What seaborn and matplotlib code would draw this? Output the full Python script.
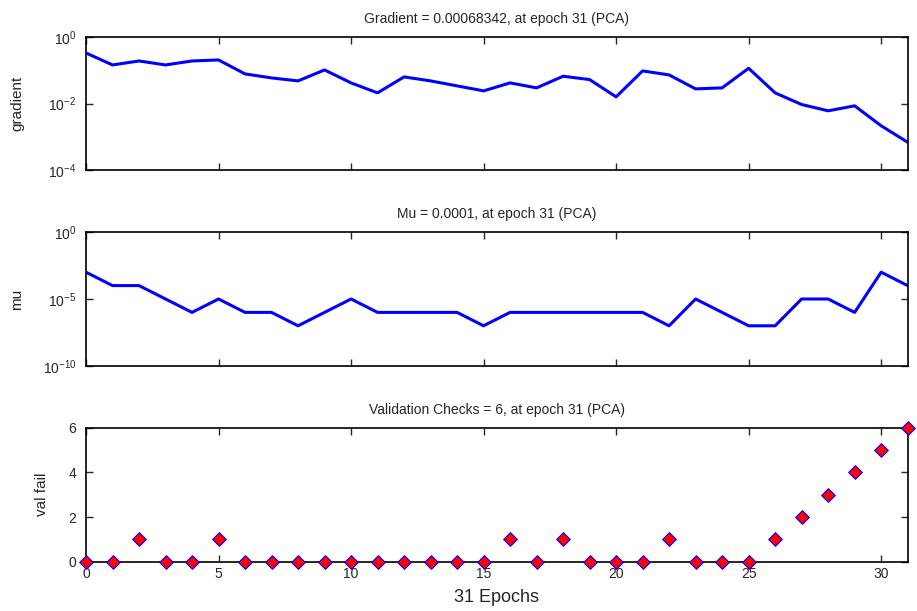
import numpy as np
import pandas as pd
import seaborn as sns
import matplotlib.pyplot as plt

# data
epochs = list(range(32))
gradient_log = [-0.48, -0.84, -0.72, -0.84, -0.72, -0.69, -1.11, -1.23, -1.32, -0.99,
                -1.38, -1.68, -1.20, -1.32, -1.47, -1.62, -1.38, -1.53, -1.18, -1.28,
                -1.80, -1.02, -1.14, -1.56, -1.53, -0.94, -1.68, -2.03, -2.22, -2.07,
                -2.67, -3.165]
mu_log = [-3, -4, -4, -5, -6, -5, -6, -6, -7, -6,
          -5, -6, -6, -6, -6, -7, -6, -6, -6, -6,
          -6, -6, -7, -5, -6, -7, -7, -5, -5, -6,
          -3, -4]
val_fail = [0, 0, 1, 0, 0, 1, 0, 0, 0, 0,
            0, 0, 0, 0, 0, 0, 1, 0, 1, 0,
            0, 0, 1, 0, 0, 0, 1, 2, 3, 4,
            5, 6]

df = pd.DataFrame({'epoch': epochs,
                   'gradient': [10.0 ** v for v in gradient_log],
                   'mu': [10.0 ** v for v in mu_log],
                   'val_fail': val_fail})

sns.set_style("ticks")
plt.rcParams['font.family'] = ['Liberation Sans', 'DejaVu Sans']
plt.rcParams['mathtext.fontset'] = 'custom'
plt.rcParams['mathtext.rm'] = 'Liberation Sans'

fig = plt.figure(figsize=(9.17, 6.11), dpi=100)
left, width = 0.0938, 0.896
ax1 = fig.add_axes([left, 0.7218, width, 0.2176])
ax2 = fig.add_axes([left, 0.4010, width, 0.2193])
ax3 = fig.add_axes([left, 0.0807, width, 0.2193])

# gradient
sns.lineplot(data=df, x='epoch', y='gradient', ax=ax1, color='#0000ff', linewidth=2.2)
ax1.set_yscale('log')
ax1.set_ylim(1e-4, 1)
ax1.set_yticks([1e-4, 1e-2, 1])
ax1.set_ylabel('gradient', fontsize=11)
ax1.set_title('Gradient = 0.00068342, at epoch 31 (PCA)', fontsize=10, pad=10)

# mu
sns.lineplot(data=df, x='epoch', y='mu', ax=ax2, color='#0000ff', linewidth=2.2)
ax2.set_yscale('log')
ax2.set_ylim(1e-10, 1)
ax2.set_yticks([1e-10, 1e-5, 1])
ax2.set_ylabel('mu', fontsize=11)
ax2.set_title('Mu = 0.0001, at epoch 31 (PCA)', fontsize=10, pad=10)

# validation checks
sns.scatterplot(data=df, x='epoch', y='val_fail', ax=ax3, marker='D', s=48,
                color='red', edgecolor='#0000ff', linewidth=0.8, zorder=5, clip_on=False)
ax3.set_ylim(0, 6)
ax3.set_yticks([0, 2, 4, 6])
ax3.set_ylabel('val fail', fontsize=11)
ax3.set_title('Validation Checks = 6, at epoch 31 (PCA)', fontsize=10, pad=10)
ax3.set_xlabel('31 Epochs', fontsize=13, labelpad=6)

for ax in (ax1, ax2, ax3):
    ax.set_xlim(0, 31)
    ax.set_xticks([0, 5, 10, 15, 20, 25, 30])
    ax.minorticks_off()
    ax.tick_params(direction='in', top=True, right=True, length=5, width=1, labelsize=10)
    ax.tick_params(axis='y', pad=7)
    for sp in ax.spines.values():
        sp.set_visible(True)
        sp.set_linewidth(1.2)
        sp.set_color('black')
    ax.grid(False)
    if ax is not ax3:
        ax.set_xlabel('')
        ax.tick_params(labelbottom=False)

ax1.yaxis.set_label_coords(-0.075, 0.5)
ax2.yaxis.set_label_coords(-0.075, 0.5)
ax3.yaxis.set_label_coords(-0.045, 0.5)

fig.savefig('out.png', dpi=100)
